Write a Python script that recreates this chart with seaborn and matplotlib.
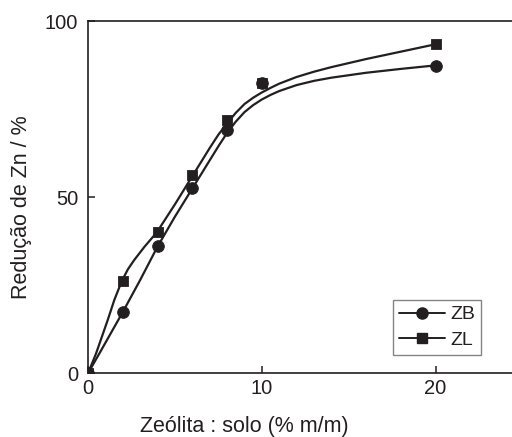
import matplotlib
matplotlib.use("Agg")
import matplotlib.pyplot as plt
from matplotlib.lines import Line2D
import pandas as pd
import seaborn as sns

# measured points
dose = [0, 2, 4, 6, 8, 10, 20]
zb_pts = [0, 17.5, 36.3, 52.6, 69.2, 82.6, 87.4]
zl_pts = [0, 26.3, 40.2, 56.4, 72.0, 82.6, 93.6]

# fitted curves
zl_fit_x = [0, 0.46, 1.13, 1.51, 1.95, 2.3, 2.66, 3.24, 3.95, 5, 6, 7, 7.5, 8, 8.5, 9, 9.5, 10, 10.5, 11,
            12, 13, 14, 16, 18, 20]
zl_fit_y = [0, 5.6, 15.1, 20.8, 26.3, 29.6, 32.2, 35.9, 40.0, 48, 56, 64, 67.8, 71, 74, 76.5, 78.3, 79.8, 81.1, 82.3,
            84.2, 85.7, 87, 89.3, 91.4, 93.5]
zb_fit_x = [0, 0.65, 2, 3, 4, 5, 6, 7, 7.5, 8, 8.5, 9, 9.5, 10, 10.5, 11, 12, 13, 14, 16, 18, 20]
zb_fit_y = [0, 5.6, 17.4, 26.5, 36, 44.5, 52.5, 60.5, 64.5, 68.3, 71.5, 74.2, 76.2, 77.8, 79.1, 80.2,
            81.9, 83.1, 84, 85.4, 86.5, 87.5]

sns.set_style("ticks")
plt.rcParams["font.family"] = ["Liberation Sans", "DejaVu Sans"]

fig = plt.figure(figsize=(5.12, 4.37), dpi=100)
ax = fig.add_axes([0.172, 0.146, 0.828, 0.805])

ink = "#231f20"
fit_zb = pd.DataFrame({"x": zb_fit_x, "y": zb_fit_y})
fit_zl = pd.DataFrame({"x": zl_fit_x, "y": zl_fit_y})
sns.lineplot(data=fit_zb, x="x", y="y", sort=False, estimator=None, color=ink, lw=1.6, ax=ax)
sns.lineplot(data=fit_zl, x="x", y="y", sort=False, estimator=None, color=ink, lw=1.6, ax=ax)

pts = pd.DataFrame({"x": dose, "zb": zb_pts, "zl": zl_pts})
sns.scatterplot(data=pts, x="x", y="zb", marker="o", s=70, color=ink, edgecolor=ink, ax=ax, zorder=3)
sns.scatterplot(data=pts, x="x", y="zl", marker="s", s=55, color=ink, edgecolor=ink, ax=ax, zorder=3)

ax.set_xlim(0, 24.4)
ax.set_ylim(0, 100)
ax.set_xticks([0, 10, 20])
ax.set_yticks([0, 50, 100])
ax.tick_params(direction="in", length=5, width=1.1, labelsize=14.5, colors=ink)
ax.tick_params(axis="y", pad=7)
ax.tick_params(axis="x", pad=4)
for side in ["left", "bottom", "top"]:
    ax.spines[side].set_linewidth(1.2)
    ax.spines[side].set_color(ink)
ax.spines["right"].set_visible(False)

ax.set_xlabel("Zeólita : solo (% m/m)", fontsize=15.5, color=ink)
ax.set_ylabel("Redução de Zn / %", fontsize=15.5, color=ink)
ax.xaxis.set_label_coords(0.368, -0.122)
ax.yaxis.set_label_coords(-0.132, 0.472)

handles = [
    Line2D([], [], color=ink, lw=1.4, marker="o", markersize=8, label="ZB"),
    Line2D([], [], color=ink, lw=1.4, marker="s", markersize=7, label="ZL"),
]
leg = ax.legend(handles=handles, loc="upper left", bbox_to_anchor=(0.719, 0.208),
                borderaxespad=0, fontsize=14, frameon=True, fancybox=False,
                borderpad=0.3, labelspacing=0.4, handlelength=2.4, handletextpad=0.25,
                numpoints=1)
leg.get_frame().set_edgecolor("#666666")
leg.get_frame().set_linewidth(1.0)
for t in leg.get_texts():
    t.set_color(ink)

fig.savefig("out.png", dpi=100)
